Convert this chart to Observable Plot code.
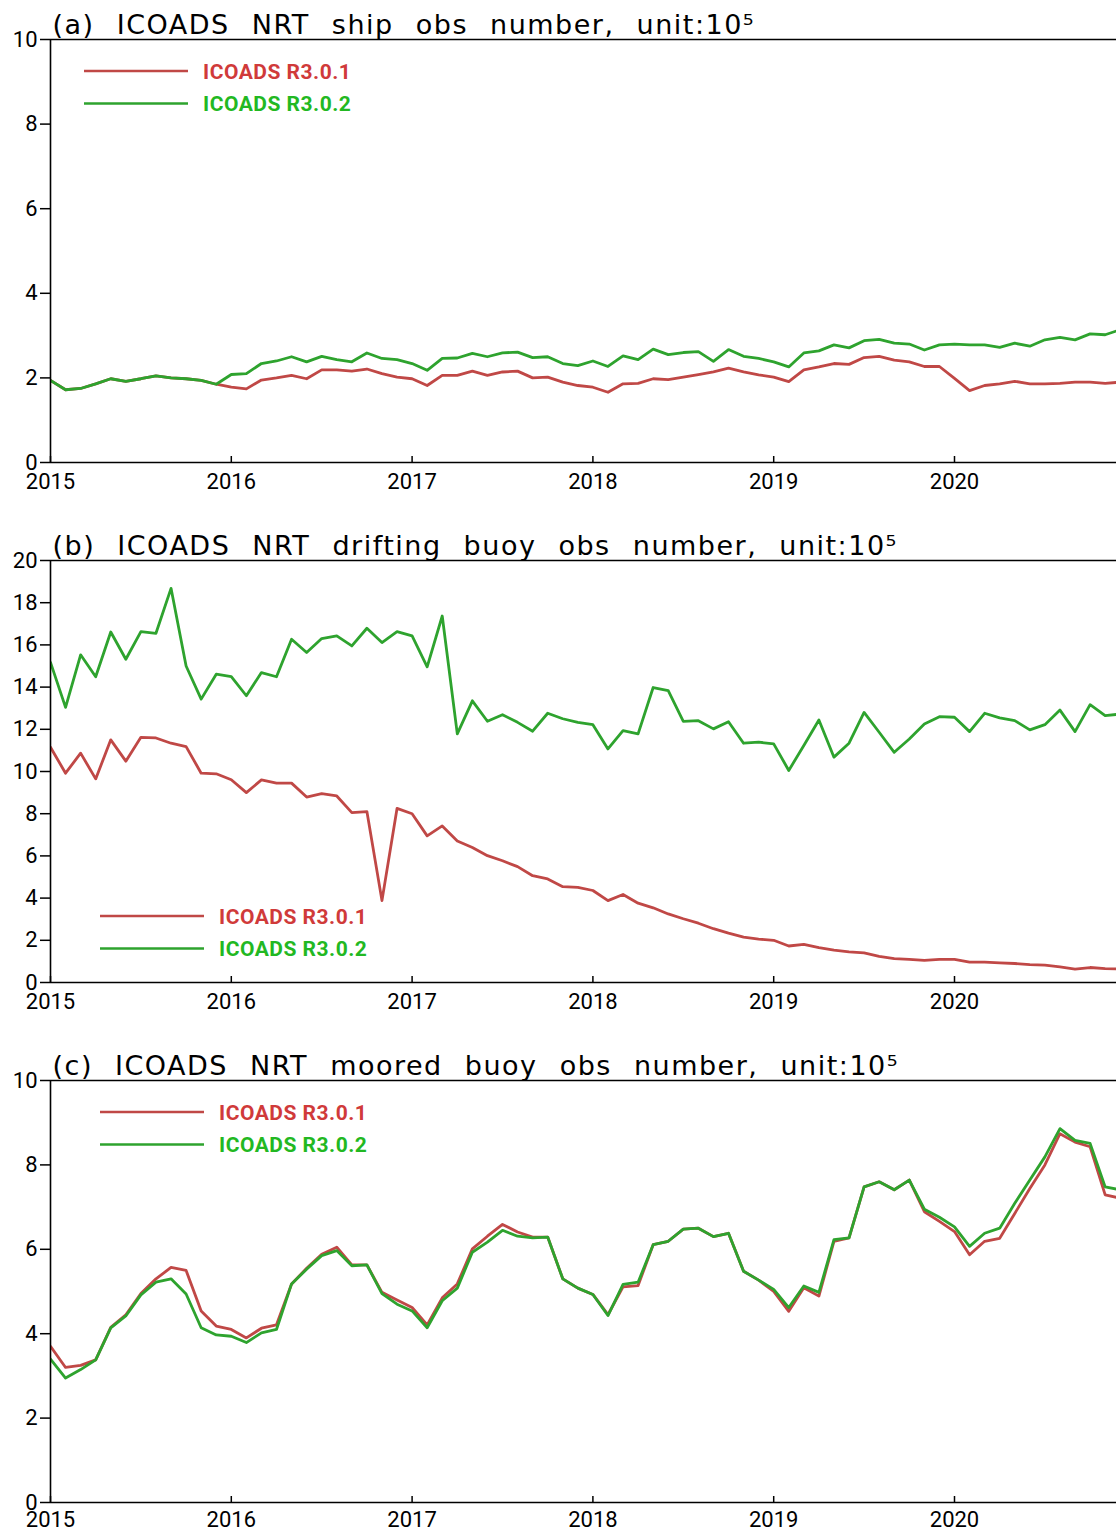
<!DOCTYPE html>
<html>
<head>
<meta charset="utf-8">
<script src="https://cdn.jsdelivr.net/npm/d3@7"></script>
<script src="https://cdn.jsdelivr.net/npm/@observablehq/plot@0.6"></script>
<style>
html, body { margin: 0; padding: 0; background: #fff; }
#chart { position: relative; width: 1116px; height: 1535px; overflow: hidden; background: #fff; }
#chart svg { display: block; }
</style>
</head>
<body>
<div id="chart"></div>
<script>
// ---- data (monthly, Jan 2015 .. Dec 2020), unit 10^5 ----
const yearTicks = [2015, 2016, 2017, 2018, 2019, 2020];
const seriesNames = ["ICOADS R3.0.1", "ICOADS R3.0.2"];
const panelTitles = [
  "(a) ICOADS NRT ship obs number, unit:10\u2075",
  "(b) ICOADS NRT drifting buoy obs number, unit:10\u2075",
  "(c) ICOADS NRT moored buoy obs number, unit:10\u2075"
];

const shipR301 = [1.94, 1.72, 1.75, 1.86, 1.98, 1.92, 1.98, 2.05, 2.0, 1.98, 1.94, 1.85,
  1.78, 1.74, 1.95, 2.0, 2.06, 1.98, 2.19, 2.19, 2.16, 2.21, 2.10, 2.02,
  1.98, 1.82, 2.06, 2.06, 2.16, 2.06, 2.14, 2.16, 2.0, 2.02, 1.90, 1.82,
  1.78, 1.66, 1.86, 1.87, 1.98, 1.96, 2.02, 2.08, 2.14, 2.23, 2.14, 2.07,
  2.02, 1.91, 2.19, 2.26, 2.34, 2.32, 2.48, 2.51, 2.42, 2.38, 2.27, 2.27,
  1.99, 1.70, 1.82, 1.86, 1.92, 1.86, 1.86, 1.87, 1.90, 1.90, 1.87, 1.90];
const shipR302 = [1.94, 1.72, 1.75, 1.86, 1.98, 1.92, 1.98, 2.05, 2.0, 1.98, 1.94, 1.85,
  2.08, 2.10, 2.34, 2.40, 2.50, 2.38, 2.51, 2.43, 2.38, 2.59, 2.46, 2.43,
  2.34, 2.18, 2.46, 2.47, 2.58, 2.50, 2.59, 2.61, 2.48, 2.50, 2.34, 2.29,
  2.40, 2.27, 2.52, 2.43, 2.68, 2.55, 2.60, 2.62, 2.39, 2.67, 2.51, 2.46,
  2.38, 2.26, 2.59, 2.64, 2.78, 2.71, 2.88, 2.91, 2.82, 2.80, 2.66, 2.78,
  2.80, 2.78, 2.78, 2.72, 2.82, 2.75, 2.90, 2.96, 2.90, 3.04, 3.02, 3.14];

const driftR301 = [11.15, 9.92, 10.87, 9.65, 11.50, 10.49, 11.62, 11.59, 11.34, 11.18, 9.92, 9.89,
  9.61, 9.0, 9.6, 9.45, 9.45, 8.79, 8.95, 8.84, 8.05, 8.10, 3.88, 8.25,
  8.0, 6.95, 7.42, 6.71, 6.40, 6.01, 5.77, 5.49, 5.06, 4.91, 4.54, 4.51,
  4.36, 3.88, 4.17, 3.76, 3.54, 3.25, 3.02, 2.81, 2.55, 2.34, 2.15, 2.06,
  2.0, 1.73, 1.81, 1.65, 1.53, 1.45, 1.40, 1.24, 1.13, 1.10, 1.05, 1.10,
  1.10, 0.97, 0.97, 0.93, 0.90, 0.85, 0.82, 0.74, 0.63, 0.71, 0.66, 0.64];
const driftR302 = [15.17, 13.04, 15.53, 14.49, 16.61, 15.32, 16.63, 16.55, 18.68, 15.0, 13.43, 14.61,
  14.50, 13.59, 14.69, 14.49, 16.27, 15.64, 16.30, 16.43, 15.95, 16.79, 16.11, 16.63,
  16.43, 14.96, 17.37, 11.78, 13.35, 12.38, 12.69, 12.33, 11.91, 12.76, 12.5, 12.33,
  12.22, 11.07, 11.94, 11.78, 13.98, 13.83, 12.38, 12.41, 12.02, 12.36, 11.34, 11.39,
  11.31, 10.05, 11.23, 12.44, 10.68, 11.34, 12.80, 11.86, 10.91, 11.54, 12.25, 12.60,
  12.57, 11.89, 12.76, 12.54, 12.41, 11.97, 12.22, 12.91, 11.89, 13.17, 12.65, 12.72];

const mooredR301 = [3.70, 3.20, 3.25, 3.38, 4.15, 4.45, 4.95, 5.30, 5.57, 5.50, 4.54, 4.18,
  4.10, 3.90, 4.13, 4.21, 5.18, 5.55, 5.88, 6.05, 5.63, 5.63, 4.98, 4.80,
  4.62, 4.21, 4.85, 5.18, 6.01, 6.31, 6.59, 6.41, 6.29, 6.29, 5.30, 5.08,
  4.93, 4.45, 5.11, 5.14, 6.11, 6.19, 6.48, 6.50, 6.30, 6.38, 5.48, 5.27,
  5.0, 4.53, 5.09, 4.89, 6.19, 6.27, 7.48, 7.60, 7.41, 7.64, 6.89, 6.66,
  6.42, 5.87, 6.19, 6.26, 6.85, 7.44, 8.0, 8.74, 8.54, 8.43, 7.29, 7.21];
const mooredR302 = [3.40, 2.95, 3.15, 3.38, 4.14, 4.42, 4.92, 5.22, 5.30, 4.94, 4.14, 3.97,
  3.94, 3.79, 4.02, 4.10, 5.18, 5.53, 5.85, 5.97, 5.61, 5.63, 4.95, 4.70,
  4.54, 4.14, 4.78, 5.08, 5.93, 6.17, 6.45, 6.31, 6.27, 6.29, 5.30, 5.08,
  4.93, 4.43, 5.17, 5.22, 6.11, 6.19, 6.48, 6.50, 6.30, 6.38, 5.48, 5.27,
  5.05, 4.62, 5.13, 4.98, 6.23, 6.27, 7.48, 7.60, 7.41, 7.64, 6.95, 6.76,
  6.53, 6.07, 6.38, 6.50, 7.09, 7.64, 8.19, 8.86, 8.58, 8.51, 7.48, 7.41];

const yTicksA = [0, 2, 4, 6, 8, 10];
const yTicksB = [0, 2, 4, 6, 8, 10, 12, 14, 16, 18, 20];
const yTicksC = [0, 2, 4, 6, 8, 10];

// ---- styling ----
const RED = "#c04846", GREEN = "#2ea32e";
const LEG_RED = "#d03a3a", LEG_GREEN = "#22b822";
const TICK_FONT = 'Roboto, "Liberation Sans", sans-serif';
const TITLE_FONT = '"DejaVu Sans", sans-serif';
const xDomain = [2015, 2015 + (1116 - 50) / 180.8];
const monthPos = d3.range(72).map(i => 2015 + i / 12);

function makePanel({title, red, green, yTicks, height, marginTop, marginBottom, legendLeft, legendTop, xPad}) {
  const yMax = yTicks[yTicks.length - 1];
  const rows = (vals) => vals.map((v, i) => ({t: monthPos[i], v}));
  const svg = Plot.plot({
    width: 1116, height, marginLeft: 50, marginRight: 0, marginTop, marginBottom,
    style: {fontFamily: TICK_FONT, fontSize: "22px", color: "#000", background: "#fff", overflow: "visible"},
    x: {domain: xDomain},
    y: {domain: [0, yMax]},
    marks: [
      Plot.line(rows(red), {x: "t", y: "v", stroke: RED, strokeWidth: 2.8, strokeLinejoin: "round", clip: true}),
      Plot.line(rows(green), {x: "t", y: "v", stroke: GREEN, strokeWidth: 2.8, strokeLinejoin: "round", clip: true}),
      Plot.ruleY([yMax], {stroke: "#000", strokeWidth: 1.6}),
      Plot.ruleY([0], {stroke: "#000", strokeWidth: 1.6}),
      Plot.ruleX([xDomain[0]], {stroke: "#000", strokeWidth: 1.6}),
      Plot.axisX({ticks: yearTicks, tickFormat: d => String(d), tickSize: -6, tickPadding: xPad, label: null, strokeWidth: 1.5}),
      Plot.axisY({ticks: yTicks, tickSize: 10, tickPadding: 3, label: null, strokeWidth: 1.5}),
      Plot.text([title], {frameAnchor: "top-left", text: d => d, lineAnchor: "bottom", textAnchor: "start",
        dx: 2, dy: -6, fontSize: 27, fontFamily: TITLE_FONT, fill: "#000"})
    ]
  });
  const s = d3.select(svg);
  s.selectAll('g[aria-label="text"] text').style("word-spacing", "12px").style("letter-spacing", "1.5px");
  const g = s.append("g").attr("class", "legend");
  seriesNames.forEach((name, k) => {
    const y = legendTop + k * 32.5;
    g.append("line").attr("x1", legendLeft).attr("x2", legendLeft + 104)
      .attr("y1", y).attr("y2", y).attr("stroke", k ? GREEN : RED).attr("stroke-width", 2.4);
    g.append("text").attr("x", legendLeft + 119).attr("y", y).attr("dy", "0.36em")
      .attr("text-anchor", "start")
      .attr("fill", k ? LEG_GREEN : LEG_RED).attr("font-weight", "bold").attr("font-size", 21)
      .attr("font-family", TICK_FONT).style("letter-spacing", "0.5px").text(name);
  });
  return svg;
}

const chart = document.getElementById("chart");
chart.append(makePanel({title: panelTitles[0], red: shipR301, green: shipR302, yTicks: yTicksA,
  height: 520, marginTop: 39, marginBottom: 58, legendLeft: 84, legendTop: 71, xPad: 17}));
chart.append(makePanel({title: panelTitles[1], red: driftR301, green: driftR302, yTicks: yTicksB,
  height: 520, marginTop: 40, marginBottom: 58, legendLeft: 100, legendTop: 396, xPad: 17}));
chart.append(makePanel({title: panelTitles[2], red: mooredR301, green: mooredR302, yTicks: yTicksC,
  height: 495, marginTop: 40, marginBottom: 33, legendLeft: 100, legendTop: 72, xPad: 15}));
</script>
</body>
</html>
